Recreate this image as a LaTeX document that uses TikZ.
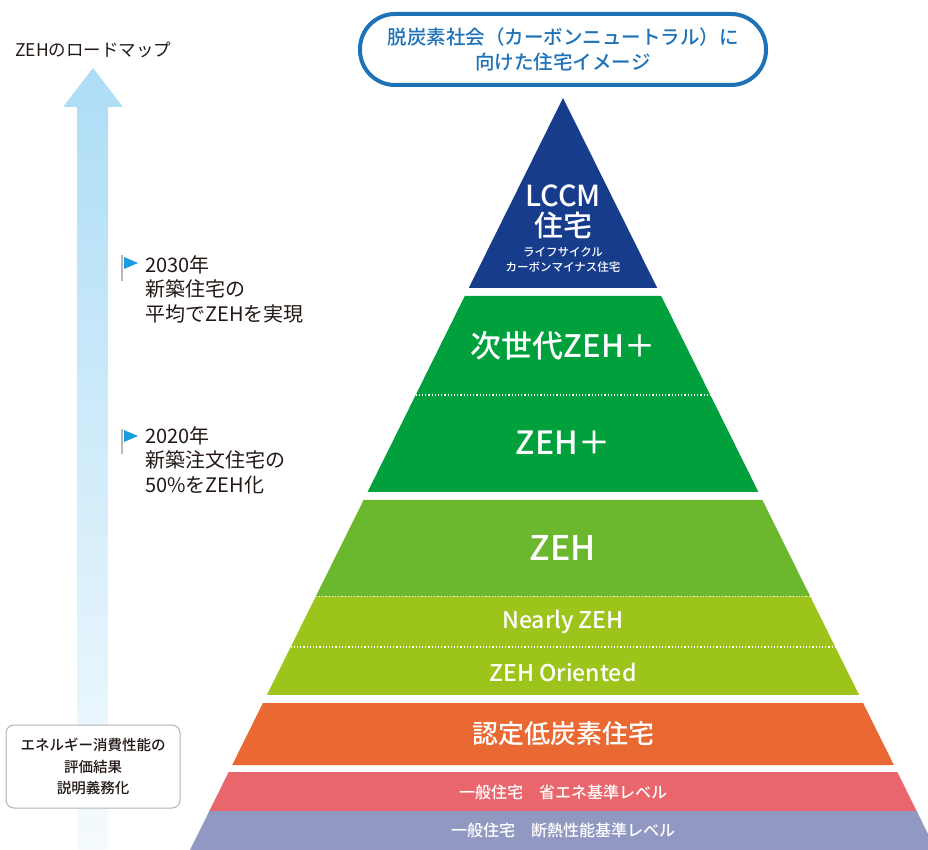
\documentclass[tikz,border=0pt]{standalone}
\usepackage{fontspec}
\setmainfont{Noto Sans CJK JP}[BoldFont={Noto Sans CJK JP Medium}]
\usepackage{tikz}
\usetikzlibrary{calc}
\definecolor{lccmcolore}{HTML}{173C8C}
\definecolor{zehpluscolore}{HTML}{00A03C}
\definecolor{zehcolore}{HTML}{6BB72E}
\definecolor{nearlycolore}{HTML}{9DC41A}
\definecolor{lowcarboncolore}{HTML}{EA6933}
\definecolor{savingcolore}{HTML}{E8666C}
\definecolor{insulcolore}{HTML}{9199C3}
\definecolor{titlebluecolore}{HTML}{1E72B8}
\definecolor{arrowcolore}{HTML}{ADDDF6}
\definecolor{flagcolore}{HTML}{1B9BE0}
\definecolor{inkcolore}{HTML}{231815}
\colorlet{lccmcolor}{lccmcolore}
\colorlet{zehpluscolor}{zehpluscolore}
\colorlet{zehcolor}{zehcolore}
\colorlet{nearlycolor}{nearlycolore}
\colorlet{lowcarboncolor}{lowcarboncolore}
\colorlet{savingcolor}{savingcolore}
\colorlet{insulcolor}{insulcolore}
\colorlet{titlebluecolor}{titlebluecolore}
\colorlet{arrowcolor}{arrowcolore}
\colorlet{flagcolor}{flagcolore}
\colorlet{inkcolor}{inkcolore}
\tikzstyle{bandlabel} =[
    text=white,
    font=\bfseries,
    align=center,
    inner sep=0pt
    ]
\tikzstyle{sidenote} =[
    text=inkcolor,
    align=left,
    anchor=west,
    inner sep=0pt,
    font=\fontsize{20}{24.5}\selectfont
    ]
\tikzstyle{titlepill} = [
    draw=titlebluecolor,
    text=titlebluecolor,
    line width=4pt,
    rounded corners=35pt,
    minimum width=406pt,
    minimum height=71pt,
    align=center,
    font=\fontsize{19.5}{25}\selectfont\bfseries
    ]
\tikzstyle{dutybox} = [
    draw=gray!60,
    fill=white,
    line width=1pt,
    rounded corners=8pt,
    minimum width=174pt,
    minimum height=83pt,
    align=center,
    text=inkcolor,
    font=\fontsize{14.5}{21.5}\selectfont\bfseries
    ]
\tikzstyle{sepline} = [
    white,
    dotted,
    line width=1.2pt
    ]
% one band of the pyramid, from y=#1 down to y=#2
\newcommand{\pyrband}[3]{%
  \fill[#3] ($(apex)!{(#1-98)/752}!(baseL)$) -- ($(apex)!{(#2-98)/752}!(baseL)$)
    -- ($(apex)!{(#2-98)/752}!(baseR)$) -- ($(apex)!{(#1-98)/752}!(baseR)$) -- cycle;}
\newcommand{\pyrsep}[1]{%
  \draw[sepline] ($(apex)!{(#1-98)/752}!(baseL)$) -- ($(apex)!{(#1-98)/752}!(baseR)$);}

\begin{document}
\begin{tikzpicture}[x=1pt,y=-1pt]
\useasboundingbox (0,0) rectangle (928,850);
\coordinate (apex) at (563,98);
\coordinate (baseL) at (190,850);
\coordinate (baseR) at (936,850);

% roadmap arrow
\shade[top color=arrowcolor, bottom color=arrowcolor!12]
    (93,68) -- (123,107) -- (108,107) -- (108,850) -- (77,850) -- (77,107) -- (63,107) -- cycle;
\node[anchor=west, inner sep=0pt, text=inkcolor, font=\fontsize{17.5}{20}\selectfont] (roadmap) at (15,50) {ZEHのロードマップ};

% milestones
\draw[gray!55, line width=2.5pt] (122,255) -- (122,281);
\fill[flagcolor] (124,257) -- (138,263) -- (124,269) -- cycle;
\node[sidenote] (goal2030) at (145,289) {2030年\\新築住宅の\\平均でZEHを実現};
\draw[gray!55, line width=2.5pt] (122,429) -- (122,454);
\fill[flagcolor] (124,430) -- (138,436) -- (124,442) -- cycle;
\node[sidenote] (goal2020) at (145,460) {2020年\\新築注文住宅の\\50\%をZEH化};

\node[dutybox] (duty) at (93,766.5) {エネルギー消費性能の\\評価結果\\説明義務化};

% title
\node[titlepill] (vision) at (563,49.5) {脱炭素社会（カーボンニュートラル）に\\向けた住宅イメージ};

% pyramid
\pyrband{98}{288}{lccmcolor}
\pyrband{296}{492}{zehpluscolor}
\pyrband{500}{596}{zehcolor}
\pyrband{596}{695}{nearlycolor}
\pyrband{703}{765}{lowcarboncolor}
\pyrband{772}{811.5}{savingcolor}
\pyrband{811}{850}{insulcolor}
\pyrsep{395}
\pyrsep{596.5}
\pyrsep{647}

\node[bandlabel, font=\fontsize{29}{30.5}\selectfont\bfseries] (lccm) at (563,212) {LCCM\\住宅};
\node[bandlabel, font=\fontsize{11.5}{15.5}\selectfont\bfseries] (lccmsub) at (563,260) {ライフサイクル\\カーボンマイナス住宅};
\node[bandlabel, font=\fontsize{31}{32}\selectfont\bfseries] (nextzeh) at (563,346) {次世代ZEH＋};
\node[bandlabel, font=\fontsize{32}{32}\selectfont\bfseries] (zehplus) at (563,443) {ZEH＋};
\node[bandlabel, font=\fontsize{34}{36}\selectfont\bfseries] (zeh) at (563,548) {ZEH};
\node[bandlabel, font=\fontsize{23}{24}\selectfont\bfseries] (nearly) at (563,622) {Nearly ZEH};
\node[bandlabel, font=\fontsize{23}{24}\selectfont\bfseries] (oriented) at (563,672) {ZEH Oriented};
\node[bandlabel, font=\fontsize{26}{27}\selectfont\bfseries] (lowcarbon) at (563,734) {認定低炭素住宅};
\node[bandlabel, font=\fontsize{16}{18}\selectfont\bfseries] (saving) at (563,792) {一般住宅　省エネ基準レベル};
\node[bandlabel, font=\fontsize{16}{18}\selectfont\bfseries] (insul) at (563,830) {一般住宅　断熱性能基準レベル};
\end{tikzpicture}
\end{document}
